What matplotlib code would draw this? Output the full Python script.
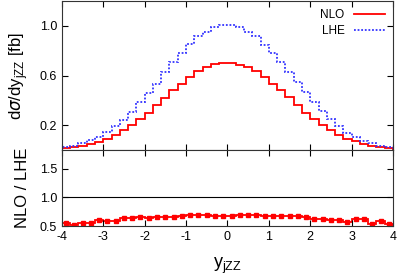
import numpy as np
import matplotlib
matplotlib.use("Agg")
import matplotlib.pyplot as plt

plt.rcParams['font.family'] = ['Liberation Sans', 'DejaVu Sans']
plt.rcParams['axes.unicode_minus'] = False

# bin edges in y_jZZ (40 bins of 0.2)
edges = np.round(np.arange(-4.0, 4.0001, 0.2), 2)

nlo = [0.013, 0.021, 0.035, 0.048, 0.067, 0.091, 0.117, 0.165, 0.200, 0.253,
       0.295, 0.360, 0.421, 0.480, 0.533, 0.592, 0.640, 0.672, 0.693, 0.700,
       0.700, 0.688, 0.667, 0.635, 0.587, 0.533, 0.480, 0.427, 0.365, 0.299,
       0.248, 0.200, 0.160, 0.120, 0.088, 0.069, 0.045, 0.029, 0.021, 0.013]

lhe = [0.027, 0.035, 0.053, 0.080, 0.107, 0.147, 0.192, 0.245, 0.307, 0.387,
       0.459, 0.533, 0.627, 0.707, 0.781, 0.853, 0.915, 0.955, 0.992, 1.008,
       1.008, 0.992, 0.955, 0.915, 0.848, 0.781, 0.707, 0.627, 0.547, 0.467,
       0.387, 0.315, 0.248, 0.192, 0.141, 0.107, 0.075, 0.053, 0.035, 0.024]

ratio = [0.56, 0.52, 0.556, 0.56, 0.61, 0.59, 0.59, 0.64, 0.645, 0.65,
         0.645, 0.66, 0.665, 0.66, 0.68, 0.685, 0.685, 0.685, 0.68, 0.68,
         0.684, 0.685, 0.685, 0.685, 0.684, 0.684, 0.675, 0.675, 0.675, 0.65,
         0.63, 0.625, 0.614, 0.60, 0.574, 0.626, 0.626, 0.544, 0.59, 0.53]

centers = 0.5 * (edges[:-1] + edges[1:])

fig = plt.figure(figsize=(3.99, 2.76), dpi=100)
ax1 = fig.add_axes([0.155, 0.4565, 0.83, 0.5395])
ax2 = fig.add_axes([0.155, 0.181, 0.83, 0.2755])

red = '#ff0000'
blue = '#3333ff'

ax1.stairs(nlo, edges, color=red, lw=1.3, label='NLO')
ax1.stairs(lhe, edges, color=blue, lw=1.3, ls=(0, (1, 1)), label='LHE')
ax1.set_xlim(-4, 4)
ax1.set_ylim(0, 1.2)
ax1.set_yticks([0.2, 0.6, 1.0])
ax1.set_xticks(range(-4, 5))
ax1.tick_params(labelbottom=False)
ax1.set_ylabel(r'd$\sigma$/dy$_{\mathregular{jZZ}}$ [fb]', fontsize=12, labelpad=7)
ax1.legend(loc='upper right', frameon=False, markerfirst=False, fontsize=8.5,
           handlelength=2.6, borderaxespad=0.3, labelspacing=0.35)

ax2.stairs(ratio, edges, color=red, lw=1.3)
ax2.plot(centers, ratio, ls='none', marker='s', ms=2.3, color=red)
ax2.axhline(1.0, color='black', lw=0.8)
ax2.set_xlim(-4, 4)
ax2.set_ylim(0.5, 1.83)
ax2.set_yticks([0.5, 1.0, 1.5])
ax2.set_xticks(range(-4, 5))
ax2.set_ylabel('NLO / LHE', fontsize=12, labelpad=7)
ax2.set_xlabel(r'y$_{\mathregular{jZZ}}$', fontsize=13, labelpad=9)

for ax in (ax1, ax2):
    ax.tick_params(direction='in', top=True, right=True, labelsize=9, length=4, width=0.8)
    for s in ax.spines.values():
        s.set_linewidth(0.8)
        s.set_color('#333333')
ax2.yaxis.set_major_formatter(matplotlib.ticker.FormatStrFormatter('%.1f'))
ax1.yaxis.set_major_formatter(matplotlib.ticker.FormatStrFormatter('%.1f'))

fig.savefig('out.png', dpi=100)
